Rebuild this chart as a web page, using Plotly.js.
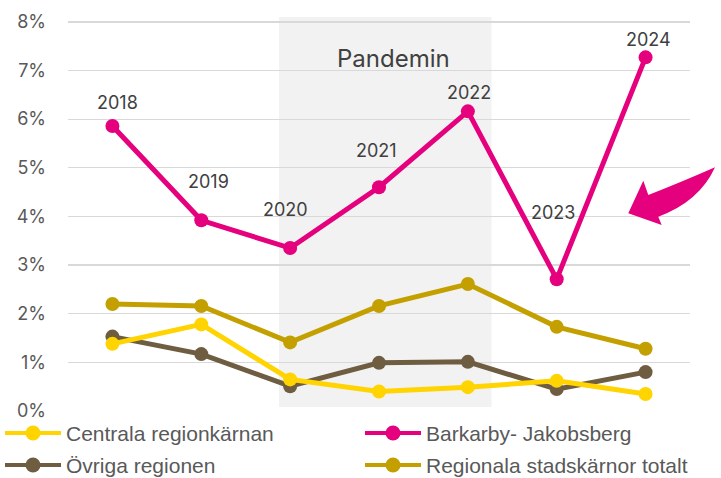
<!DOCTYPE html>
<html>
<head>
<meta charset="utf-8">
<script src="https://cdn.plot.ly/plotly-3.0.1.min.js"></script>
<style>
html,body{margin:0;padding:0;background:#fff;}
#chart{width:721px;height:478px;}
</style>
</head>
<body>
<div id="chart"></div>
<script>
// ---- data ----
const years = ["2018", "2019", "2020", "2021", "2022", "2023", "2024"];
const centrala = [1.38, 1.78, 0.65, 0.40, 0.49, 0.62, 0.35];
const barkarby = [5.86, 3.92, 3.35, 4.60, 6.16, 2.71, 7.27];
const ovriga = [1.53, 1.17, 0.51, 0.99, 1.01, 0.45, 0.80];
const regionala = [2.20, 2.16, 1.41, 2.16, 2.61, 1.73, 1.28];
const seriesNames = ["Centrala regionkärnan", "Barkarby- Jakobsberg", "Övriga regionen", "Regionala stadskärnor totalt"];
const yTicks = [0, 1, 2, 3, 4, 5, 6, 7, 8];
const pandemicLabel = "Pandemin";

// ---- styling ----
const colors = ["#FFD400", "#E5007D", "#6E5D40", "#C3A000"];
const labelOffsets = [[5, 23], [7, 39], [-5, 39], [-3, 37], [1, 19], [-4, 67], [3, 18]];
const legendSlots = [[5, 433], [365, 433], [5, 465], [365, 465]]; // pixel positions of legend entries
const mainFont = "Inter, 'Liberation Sans', Arial, sans-serif";
const legendFont = "'Liberation Sans', Arial, sans-serif";

// plot area in pixels
const L = 68, T = 17, W = 622, H = 394;
const px = x => (x - L) / W;
const py = y => (T + H - y) / H;

const seriesData = [centrala, barkarby, ovriga, regionala];
const traces = seriesData.map((vals, i) => ({
  type: "scatter",
  mode: "lines+markers",
  x: years,
  y: vals,
  name: seriesNames[i],
  showlegend: false,
  line: {color: colors[i], width: 5},
  marker: {color: colors[i], size: 14},
  hoverinfo: "skip"
}));
// draw order: Barkarby on top
const order = [3, 2, 0, 1];
const drawTraces = order.map(i => traces[i]);

const annotations = years.map((yr, i) => ({
  x: i, y: barkarby[i], xref: "x", yref: "y",
  text: yr, showarrow: false,
  xshift: labelOffsets[i][0], yshift: labelOffsets[i][1],
  font: {family: mainFont, size: 18, color: "#404040"}
}));
annotations.push({
  x: 0.524, y: 7.24, xref: "paper", yref: "y",
  text: pandemicLabel, showarrow: false,
  font: {family: mainFont, size: 24, color: "#404040"}
});

// decorative arrow
const f = v => v.toFixed(4);
const arrowPath =
  `M${f(px(628.3))},${f(py(213.3))} L${f(px(643.3))},${f(py(180.7))} L${f(px(648.3))},${f(py(195))} ` +
  `Q${f(px(680.5))},${f(py(182.5))} ${f(px(715))},${f(py(167.3))} ` +
  `Q${f(px(699.5))},${f(py(201.5))} ${f(px(658.3))},${f(py(216.7))} ` +
  `L${f(px(661.7))},${f(py(225))} Z`;

const shapes = [
  {type: "rect", xref: "paper", yref: "y", x0: px(279), x1: px(491.5), y0: 0.08, y1: 8.1,
   fillcolor: "#F2F2F2", line: {width: 0}, layer: "below"},
  {type: "path", xref: "paper", yref: "paper", path: arrowPath,
   fillcolor: "#E5007D", line: {width: 0}, layer: "above"}
];

// legend (built from series names and colours)
seriesNames.forEach((name, i) => {
  const [lx, ly] = legendSlots[i];
  shapes.push({type: "line", xref: "paper", yref: "paper",
    x0: px(lx), x1: px(lx + 56), y0: py(ly), y1: py(ly),
    line: {color: colors[i], width: 4}});
  shapes.push({type: "circle", xref: "paper", yref: "paper",
    xsizemode: "pixel", ysizemode: "pixel", xanchor: px(lx + 28), yanchor: py(ly),
    x0: -7.5, x1: 7.5, y0: -7.5, y1: 7.5,
    fillcolor: colors[i], line: {width: 0}});
  annotations.push({x: px(lx + 60), y: py(ly), xref: "paper", yref: "paper",
    xanchor: "left", yanchor: "middle", text: name, showarrow: false, borderpad: 0,
    font: {family: legendFont, size: 21, color: "#595959"}});
});

const layout = {
  width: 721, height: 478,
  margin: {l: L, r: 721 - L - W, t: T, b: 478 - T - H, pad: 0, autoexpand: false},
  paper_bgcolor: "#ffffff",
  plot_bgcolor: "rgba(0,0,0,0)",
  showlegend: false,
  xaxis: {
    type: "category", range: [-0.5, 6.5],
    showgrid: false, zeroline: false, showline: false, showticklabels: false, ticks: ""
  },
  yaxis: {
    range: [0, 8.1], tickvals: yTicks, ticktext: yTicks.map(v => v + "%"),
    showgrid: true, gridcolor: "#D9D9D9", gridwidth: 1.3,
    zeroline: false, showline: false, ticks: "",
    ticklabelstandoff: 21,
    tickfont: {family: mainFont, size: 18, color: "#595959"}
  },
  shapes: shapes,
  annotations: annotations
};

Plotly.newPlot("chart", drawTraces, layout, {displayModeBar: false, staticPlot: true});
</script>
</body>
</html>
